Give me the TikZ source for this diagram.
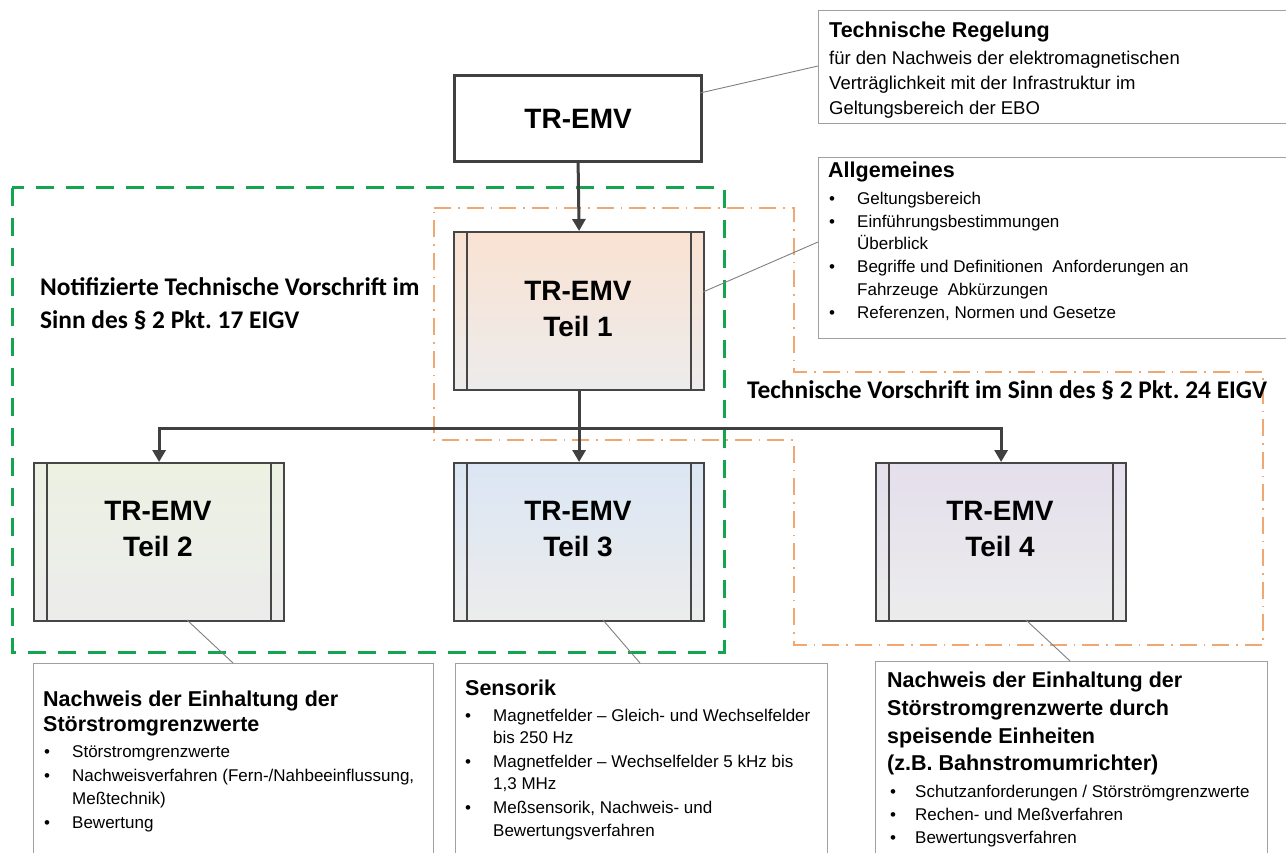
\documentclass[tikz,border=0pt]{standalone}
\usepackage{fontspec}
\setmainfont{Liberation Sans}
\newfontfamily\calfont{Carlito}
\usetikzlibrary{arrows.meta}
\definecolor{conncol}{RGB}{64,64,64}
\definecolor{boxline}{RGB}{70,70,70}
\definecolor{tboxline}{RGB}{160,160,160}
\definecolor{calloutcol}{RGB}{128,128,128}
\definecolor{greenD}{RGB}{20,165,80}
\definecolor{orangeD}{RGB}{240,168,115}
\definecolor{graybot}{RGB}{236,236,236}
\definecolor{peach}{RGB}{250,226,210}
\definecolor{greenish}{RGB}{236,241,226}
\definecolor{bluish}{RGB}{219,230,244}
\definecolor{lavender}{RGB}{228,223,236}
\frenchspacing
\begin{document}
\begin{tikzpicture}[x=1pt,y=-1pt,
  conn/.style={draw=conncol,line width=3pt,-{Triangle[length=12pt,width=13pt]}},
  teil/.style={draw=boxline,line width=2.2pt,minimum width=250pt,minimum height=158pt,anchor=north west,inner sep=0pt,bottom color=graybot},
  teiltext/.style={font=\bfseries\fontsize{28}{36.5}\selectfont,align=center,inner sep=0pt},
  tbox/.style={draw=tboxline,line width=1.3pt,fill=white,anchor=north west,inner sep=0pt},
  callout/.style={draw=calloutcol,line width=0.9pt},
  head/.style={font=\bfseries\fontsize{21.5}{26}\selectfont,anchor=base west,inner sep=0pt},
  body/.style={font=\fontsize{18.5}{22}\selectfont,anchor=base west,inner sep=0pt},
  blt/.style={font=\fontsize{17}{21}\selectfont,anchor=base west,inner sep=0pt},
  glabel/.style={font=\calfont\bfseries\fontsize{25.4}{33}\selectfont,anchor=base west,inner sep=0pt},
  bar/.style={draw=boxline,line width=2pt}
]
\useasboundingbox (0,0) rectangle (1286,853);
\fill[white] (0,0) rectangle (1286,853);

% regions
\draw[greenD,line width=3pt,dash pattern=on 18pt off 12pt] (12,188) rectangle (724,652);
\draw[orangeD,line width=2.5pt,dash pattern=on 17pt off 7pt on 1.5pt off 7pt]
  (434,208) -- (794,208) -- (794,372) -- (1263,372) -- (1263,645) -- (794,645) -- (794,440) -- (434,440) -- cycle;

% main boxes
\node[draw=conncol,line width=3.2pt,fill=white,minimum width=247pt,minimum height=86pt,anchor=north west,inner sep=0pt,font=\bfseries\fontsize{28}{36}\selectfont] (top) at (453,74) {TR-EMV};
\node[teil,top color=peach] (t1) at (453,231) {};
\node[teil,top color=greenish] (t2) at (33,462) {};
\node[teil,top color=bluish] (t3) at (453,462) {};
\node[teil,top color=lavender] (t4) at (875,462) {};
\foreach \n in {t1,t2,t3,t4}{
  \draw[bar] ([xshift=14pt]\n.north west) -- ([xshift=14pt]\n.south west);
  \draw[bar] ([xshift=-14pt]\n.north east) -- ([xshift=-14pt]\n.south east);
}
\node[teiltext] (l1) at (578,309) {TR-EMV\\Teil 1};
\node[teiltext] (l2) at (158,529) {TR-EMV\\Teil 2};
\node[teiltext] (l3) at (578,529) {TR-EMV\\Teil 3};
\node[teiltext] (l4) at (1000,529) {TR-EMV\\Teil 4};

% connectors
\coordinate (bus) at (578,428);
\draw[conn] (top.south) -- (t1.north);
\draw[conn] (t1.south) -- (t3.north);
\draw[conn] (bus) -| (t2.north);
\draw[conn] (bus) -| (t4.north);

% text boxes
\node[tbox,minimum width=472pt,minimum height=113pt] (b0) at (818,10) {};
\node[tbox,minimum width=472pt,minimum height=181pt] (b1) at (818,157) {};
\node[tbox,minimum width=400pt,minimum height=220pt] (b2) at (33,663) {};
\node[tbox,minimum width=372pt,minimum height=220pt] (b3) at (455,663) {};
\node[tbox,minimum width=392pt,minimum height=220pt] (b4) at (875,661) {};

% callouts
\coordinate (c0) at (700,93);
\coordinate (c1) at (703,292);
\coordinate (c2) at (187,620);
\coordinate (c3) at (603,620);
\coordinate (c4) at (1026,620);
\draw[callout] (c0) -- (818,66);
\draw[callout] (c1) -- (818,242);
\draw[callout] (c2) -- (233,663);
\draw[callout] (c3) -- (640,663);
\draw[callout] (c4) -- (1070,661);

% box 0 text
\node[head] (h0) at (829,38) {Technische Regelung};
\node[body] (h0a) at (829,65) {für den Nachweis der elektromagnetischen};
\node[body] (h0b) at (829,90) {Verträglichkeit mit der Infrastruktur im};
\node[body] (h0c) at (829,115) {Geltungsbereich der EBO};

% box 1 text
\node[head] (h1) at (828,178) {Allgemeines};
\node[blt] (d1a) at (829,205) {\textbullet};
\node[blt] (e1a) at (857,205) {Geltungsbereich};
\node[blt] (d1b) at (829,227.5) {\textbullet};
\node[blt] (e1b) at (857,227.5) {Einführungsbestimmungen};
\node[blt] (e1c) at (857,250) {Überblick};
\node[blt] (d1d) at (829,273) {\textbullet};
\node[blt] (e1d) at (857,273) {Begriffe und Definitionen\ \ Anforderungen an};
\node[blt] (e1e) at (857,296) {Fahrzeuge\ \ Abkürzungen};
\node[blt] (d1f) at (829,319) {\textbullet};
\node[blt] (e1f) at (857,319) {Referenzen, Normen und Gesetze};

% box 2 text
\node[head] (h2a) at (43,706) {Nachweis der Einhaltung der};
\node[head] (h2b) at (43,731) {Störstromgrenzwerte};
\node[blt] (d2a) at (44,757) {\textbullet};
\node[blt] (e2a) at (72,757) {Störstromgrenzwerte};
\node[blt] (d2b) at (44,781) {\textbullet};
\node[blt] (e2b) at (72,781) {Nachweisverfahren (Fern-/Nahbeeinflussung,};
\node[blt] (e2c) at (72,804) {Meßtechnik)};
\node[blt] (d2d) at (44,828) {\textbullet};
\node[blt] (e2d) at (72,828) {Bewertung};

% box 3 text
\node[head] (h3) at (465,695) {Sensorik};
\node[blt] (d3a) at (465,721) {\textbullet};
\node[blt] (e3a) at (493,721) {Magnetfelder – Gleich- und Wechselfelder};
\node[blt] (e3b) at (493,743) {bis 250 Hz};
\node[blt] (d3c) at (465,767) {\textbullet};
\node[blt] (e3c) at (493,767) {Magnetfelder – Wechselfelder 5 kHz bis};
\node[blt] (e3d) at (493,789) {1,3 MHz};
\node[blt] (d3e) at (465,813) {\textbullet};
\node[blt] (e3e) at (493,813) {Meßsensorik, Nachweis- und};
\node[blt] (e3f) at (493,836) {Bewertungsverfahren};

% box 4 text
\node[head] (h4a) at (887,687) {Nachweis der Einhaltung der};
\node[head] (h4b) at (887,715) {Störstromgrenzwerte durch};
\node[head] (h4c) at (887,743) {speisende Einheiten};
\node[head] (h4d) at (887,770) {(z.B. Bahnstromumrichter)};
\node[blt] (d4a) at (890,797) {\textbullet};
\node[blt] (e4a) at (915,797) {Schutzanforderungen / Störströmgrenzwerte};
\node[blt] (d4b) at (890,820) {\textbullet};
\node[blt] (e4b) at (915,820) {Rechen- und Meßverfahren};
\node[blt] (d4c) at (890,843) {\textbullet};
\node[blt] (e4c) at (915,843) {Bewertungsverfahren};

% region labels
\node[glabel] (g1) at (40,296) {Notifizierte Technische Vorschrift im};
\node[glabel] (g2) at (40,329) {Sinn des § 2 Pkt. 17 EIGV};
\node[glabel] (o1) at (747,398) {Technische Vorschrift im Sinn des § 2 Pkt. 24 EIGV};
\end{tikzpicture}
\end{document}
